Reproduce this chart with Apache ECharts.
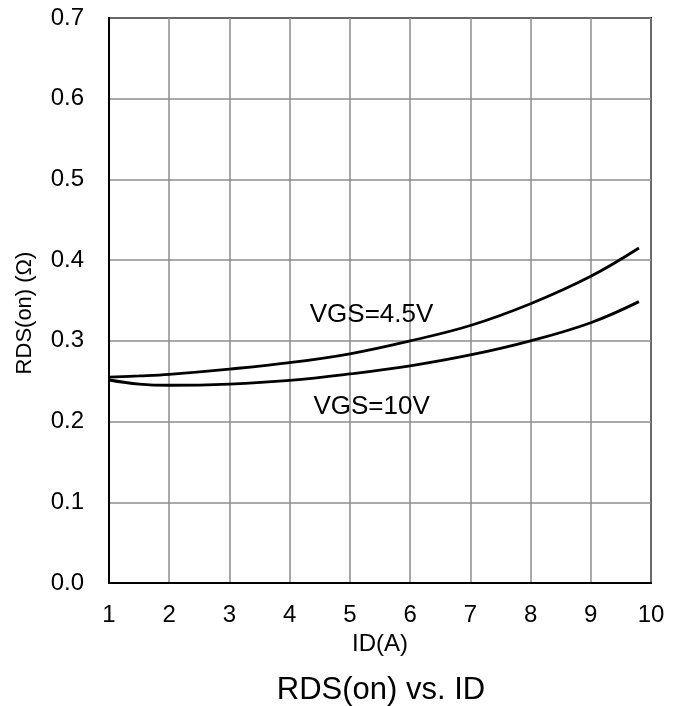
<!DOCTYPE html>
<html>
<head>
<meta charset="utf-8">
<script src="https://cdn.jsdelivr.net/npm/echarts@6/dist/echarts.min.js"></script>
<style>
html,body{margin:0;padding:0;background:#fff;}
#chart{width:679px;height:706px;}
</style>
</head>
<body>
<div id="chart"></div>
<script>
var xTicks = [1, 2, 3, 4, 5, 6, 7, 8, 9, 10];
var yTicks = [0.0, 0.1, 0.2, 0.3, 0.4, 0.5, 0.6, 0.7];
var idVals = [1, 1.5, 2, 3, 4, 5, 6, 7, 8, 9, 9.8];
var vgs45 = [0.255, 0.2565, 0.2585, 0.265, 0.273, 0.284, 0.300, 0.319, 0.346, 0.380, 0.415];
var vgs10 = [0.2515, 0.2465, 0.245, 0.2465, 0.251, 0.259, 0.269, 0.2825, 0.300, 0.3225, 0.3486];
var labelNames = ['VGS=4.5V', 'VGS=10V'];
var labelCoords = [[5.36, 0.332], [5.36, 0.218]];

var FONT = 'Liberation Sans, Arial, sans-serif';
function pairs(xs, ys){ return xs.map(function(x,i){ return [x, ys[i]]; }); }

var chart = echarts.init(document.getElementById('chart'));
chart.setOption({
  animation: false,
  backgroundColor: '#fff',
  title: {
    text: 'RDS(on) vs. ID',
    left: 376, top: 670, textAlign: 'center',
    textStyle: {fontFamily: FONT, fontSize: 31, fontWeight: 'normal', color: '#000'}
  },
  grid: {left: 109, top: 18, right: 28, bottom: 123, show: true, borderColor: '#000', borderWidth: 2, containLabel: false},
  xAxis: {
    type: 'value', min: 1, max: 10, interval: 1,
    name: 'ID(A)', nameLocation: 'middle', nameGap: 47,
    nameTextStyle: {fontFamily: FONT, fontSize: 24, color: '#000'},
    axisLine: {show: true, lineStyle: {color: '#000', width: 2}},
    axisTick: {show: false},
    axisLabel: {fontFamily: FONT, fontSize: 24, color: '#000', margin: 20},
    splitLine: {show: true, lineStyle: {color: '#8c8c8c', width: 1.5}}
  },
  yAxis: {
    type: 'value', min: 0, max: 0.7, interval: 0.1,
    axisLine: {show: true, lineStyle: {color: '#000', width: 2}},
    axisTick: {show: false},
    axisLabel: {fontFamily: FONT, fontSize: 24, color: '#000', margin: 25,
      formatter: function(v){ return v.toFixed(1); }},
    splitLine: {show: true, lineStyle: {color: '#8c8c8c', width: 1.5}}
  },
  graphic: [{
    type: 'text', x: 25, y: 313, rotation: Math.PI/2,
    style: {text: 'RDS(on) (Ω)', fontFamily: FONT, fontSize: 22, fill: '#000', align: 'center', verticalAlign: 'middle'}
  }],
  series: [
    {
      type: 'line', name: labelNames[0], data: pairs(idVals, vgs45), smooth: 0.4, showSymbol: false,
      lineStyle: {color: '#000', width: 2.8},
      markPoint: {symbol: 'circle', symbolSize: 0, data: [{coord: labelCoords[0], value: labelNames[0]}],
        label: {show: true, position: 'inside', formatter: labelNames[0], fontFamily: FONT, fontSize: 26, color: '#000'}}
    },
    {
      type: 'line', name: labelNames[1], data: pairs(idVals, vgs10), smooth: 0.4, showSymbol: false,
      lineStyle: {color: '#000', width: 2.8},
      markPoint: {symbol: 'circle', symbolSize: 0, data: [{coord: labelCoords[1], value: labelNames[1]}],
        label: {show: true, position: 'inside', formatter: labelNames[1], fontFamily: FONT, fontSize: 26, color: '#000'}}
    }
  ]
});
</script>
</body>
</html>
